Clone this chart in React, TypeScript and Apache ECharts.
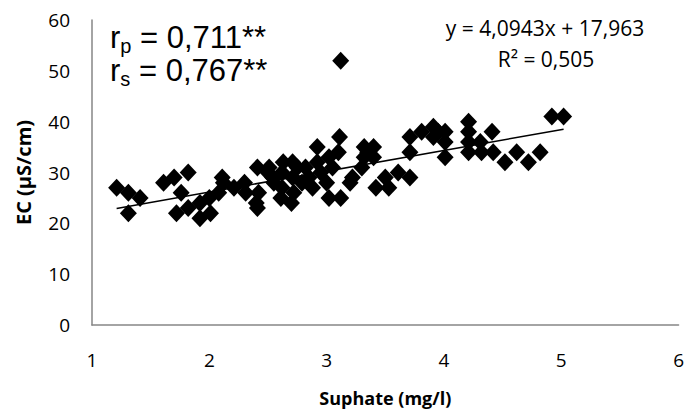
import React, { useEffect, useRef } from "react";
import * as echarts from "echarts";

const sulphate = [
  1.21, 1.31, 1.41, 1.31, 1.61, 1.7, 1.82, 1.76, 1.72, 1.82, 1.92, 1.92, 2.01, 2.0, 2.08, 2.11,
  2.12, 2.21, 2.31, 2.3, 2.4, 2.41, 2.42, 2.41, 2.51, 2.5, 2.54, 2.55, 2.61, 2.62, 2.62, 2.63,
  2.7, 2.71, 2.71, 2.72, 2.75, 2.79, 2.82, 2.85, 2.88, 2.92, 2.92, 2.95, 3.0, 3.02, 3.02, 3.05,
  3.1, 3.11, 3.12, 3.12, 3.2, 3.22, 3.3, 3.32, 3.32, 3.35, 3.4, 3.4, 3.42, 3.5, 3.53, 3.61,
  3.71, 3.71, 3.71, 3.81, 3.91, 3.91, 4.01, 4.01, 4.01, 3.95, 4.21, 4.21, 4.21, 4.21, 4.31, 4.32,
  4.41, 4.42, 4.52, 4.62, 4.72, 4.82, 4.92, 5.02,
];
const ec = [
  27, 26, 25, 22, 28, 29, 30, 26, 22, 23, 24, 21, 22, 25, 26, 29,
  28, 27, 26, 28, 24, 23, 26, 31, 31, 30, 29, 28, 25, 27, 30, 32,
  24, 32, 29, 26, 31, 28, 31, 29, 27, 35, 32, 30, 28, 33, 25, 31,
  34, 37, 25, 52, 28, 29, 31, 35, 33, 34, 35, 33, 27, 29, 27, 30,
  29, 37, 34, 38, 39, 37, 38, 36, 33, 38, 40, 38, 36, 34, 36, 34,
  38, 34, 32, 34, 32, 34, 41, 41,
];
const xTicks = [1, 2, 3, 4, 5, 6];
const yTicks = [0, 10, 20, 30, 40, 50, 60];
const trendSlope = 4.0943;
const trendIntercept = 17.963;
const equationLabel = "y = 4,0943x + 17,963";
const r2Label = "R² = 0,505";
const rpValue = " = 0,711**";
const rsValue = " = 0,767**";

export default function App() {
  const ref = useRef<HTMLDivElement>(null);
  useEffect(() => {
    if (!ref.current) return;
    const chart = echarts.init(ref.current, null, { renderer: "svg" });
    const points = sulphate.map((x, i) => [x, ec[i]]);
    const xMin = Math.min(...sulphate);
    const xMax = Math.max(...sulphate);
    const trend = [xMin, xMax].map((x) => [x, trendSlope * x + trendIntercept]);
    const axisFont = { fontFamily: "Open Sans", fontSize: 19, color: "#000" };
    const titleFont = { fontFamily: "Open Sans", fontSize: 18, fontWeight: "bold", color: "#000" };
    const bigText = (sub: string, val: string) => `{a|r}{s|${sub}}{a|${val}}`;
    const rich = {
      a: { fontFamily: "Liberation Sans", fontSize: 31, lineHeight: 36, fill: "#000", verticalAlign: "middle" },
      s: { fontFamily: "Liberation Sans", fontSize: 20, lineHeight: 18, fill: "#000", verticalAlign: "bottom" },
    };
    const eqStyle = {
      fontFamily: "Open Sans",
      fontSize: 21,
      fill: "#000",
      align: "center",
      verticalAlign: "middle",
    };
    chart.setOption({
      animation: false,
      grid: { left: 92, right: 7, top: 20, bottom: 89, containLabel: false },
      xAxis: {
        type: "value",
        min: xTicks[0],
        max: xTicks[xTicks.length - 1],
        interval: 1,
        name: "Suphate (mg/l)",
        nameLocation: "middle",
        nameGap: 64,
        nameTextStyle: titleFont,
        axisLine: { lineStyle: { color: "#868686", width: 1.5 } },
        axisTick: { show: false },
        splitLine: { show: false },
        axisLabel: { ...axisFont, margin: 25 },
      },
      yAxis: {
        type: "value",
        min: yTicks[0],
        max: yTicks[yTicks.length - 1],
        interval: 10,
        name: "EC (µS/cm)",
        nameLocation: "middle",
        nameGap: 59,
        nameTextStyle: { ...titleFont, fontSize: 20 },
        axisLine: { show: true, lineStyle: { color: "#868686", width: 1.5 } },
        axisTick: { show: false },
        splitLine: { show: false },
        axisLabel: { ...axisFont, margin: 22 },
      },
      series: [
        {
          type: "scatter",
          data: points,
          symbol: "diamond",
          symbolSize: [17, 18],
          itemStyle: { color: "#000", opacity: 1 },
          z: 2,
        },
        {
          type: "line",
          data: trend,
          symbol: "none",
          lineStyle: { color: "#000", width: 1.5 },
          z: 3,
        },
      ],
      graphic: [
        {
          type: "text",
          left: 110,
          top: 22,
          style: { text: bigText("p", rpValue), rich },
        },
        {
          type: "text",
          left: 110,
          top: 55,
          style: { text: bigText("s", rsValue), rich },
        },
        { type: "text", x: 545, y: 28, style: { ...eqStyle, text: equationLabel } },
        { type: "text", x: 546, y: 59, style: { ...eqStyle, text: r2Label } },
      ],
    });
    return () => chart.dispose();
  }, []);
  return (
    <div
      ref={ref}
      style={{ position: "absolute", left: 0, top: 0, width: 687, height: 414 }}
    />
  );
}
